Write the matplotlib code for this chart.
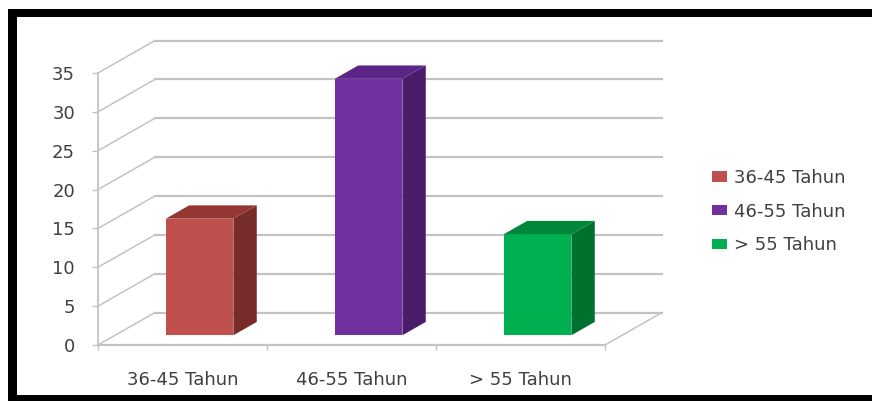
import matplotlib
matplotlib.use("Agg")
import matplotlib.pyplot as plt
from matplotlib.patches import Polygon, Rectangle

# jumlah responden per kelompok umur
categories = ["36-45 Tahun", "46-55 Tahun", "> 55 Tahun"]
values = [15, 33, 13]

FRONT = ["#c0504d", "#7030a0", "#00b050"]
SIDE = ["#772c2a", "#4a1d6b", "#00702f"]
TOP = ["#943634", "#5b2587", "#00873b"]

GRID = "#c3c3c3"
TXT = "#404040"
FS = 13

W, H = 872, 401
fig = plt.figure(figsize=(W / 100, H / 100), dpi=100)
fig.patch.set_facecolor("white")

# plot area (front plane) in pixels: x 98..605, y 73..345 from top
ax = fig.add_axes([98 / W, (H - 345) / H, 507 / W, 272 / H])
ax.set_xlim(0, 3)
ax.set_ylim(0, 35)
ax.patch.set_alpha(0)
for s in ax.spines.values():
    s.set_visible(False)

# 3d depth offset in data units
DX = 57 / 169
DY = 32.5 / (272 / 35)

yt = list(range(0, 40, 5))
for v in yt:
    # back wall
    ax.plot([DX, 3 + DX], [v + DY, v + DY], color=GRID, lw=1.6, clip_on=False, zorder=1)
    # side wall
    ax.plot([0, DX], [v, v + DY], color=GRID, lw=1.1, clip_on=False, zorder=1)

# floor edges and front axis
ax.plot([0, 3], [0, 0], color=GRID, lw=1.6, clip_on=False, zorder=1)
ax.plot([3, 3 + DX], [0, DY], color=GRID, lw=1.1, clip_on=False, zorder=1)
ax.plot([0, 0], [0, 35], color=GRID, lw=1.3, clip_on=False, zorder=1)

# bars: front face via ax.bar, side/top as polygons
bw = 0.4
f0, f1 = 0.3, 0.71
xs = [i + 0.5 + f0 * DX for i in range(len(values))]
bars = ax.bar(xs, values, width=bw, bottom=f0 * DY, color=FRONT, zorder=3,
              clip_on=False)
ddx = (f1 - f0) * DX
ddy = (f1 - f0) * DY
for i, v in enumerate(values):
    x0 = xs[i] - bw / 2
    x1 = xs[i] + bw / 2
    yb = f0 * DY
    yt_ = yb + v
    ax.add_patch(Polygon([(x1, yb), (x1 + ddx, yb + ddy), (x1 + ddx, yt_ + ddy), (x1, yt_)],
                         closed=True, facecolor=SIDE[i], edgecolor="none", zorder=3,
                         clip_on=False))
    ax.add_patch(Polygon([(x0, yt_), (x1, yt_), (x1 + ddx, yt_ + ddy), (x0 + ddx, yt_ + ddy)],
                         closed=True, facecolor=TOP[i], edgecolor="none", zorder=3,
                         clip_on=False))

# ticks
ax.set_yticks(yt)
ax.set_yticklabels([str(v) for v in yt])
ax.tick_params(axis="y", direction="out", length=4.5, width=1, color=GRID,
               labelsize=FS, labelcolor=TXT, pad=12)
ax.set_xticks([0, 1, 2, 3])
ax.set_xticklabels([])
ax.tick_params(axis="x", which="major", direction="out", length=3.5, width=1, color=GRID)
ax.set_xticks([0.5, 1.5, 2.5], minor=True)
ax.set_xticklabels(categories, minor=True)
ax.tick_params(axis="x", which="minor", length=0, labelsize=FS, labelcolor=TXT, pad=19)

# legend
handles = [Rectangle((0, 0), 1, 1, facecolor=c) for c in FRONT]
ax.legend(handles, categories, loc="upper left",
          bbox_to_anchor=(712 / W, (H - 169) / H), bbox_transform=fig.transFigure,
          frameon=False, fontsize=FS, labelcolor=TXT, handlelength=0.85,
          handleheight=0.5, handletextpad=0.35, labelspacing=0.86, borderpad=0,
          borderaxespad=0)

# black frame
fig.patches.append(Rectangle((8 / W, 0), 9 / W, (H - 9) / H, transform=fig.transFigure,
                             facecolor="black", edgecolor="none", figure=fig))
fig.patches.append(Rectangle((8 / W, (H - 17) / H), 1 - 8 / W, 8 / H, transform=fig.transFigure,
                             facecolor="black", edgecolor="none", figure=fig))
fig.patches.append(Rectangle((8 / W, 0), 1 - 8 / W, 6 / H, transform=fig.transFigure,
                             facecolor="black", edgecolor="none", figure=fig))

fig.savefig("out.png", dpi=100)
